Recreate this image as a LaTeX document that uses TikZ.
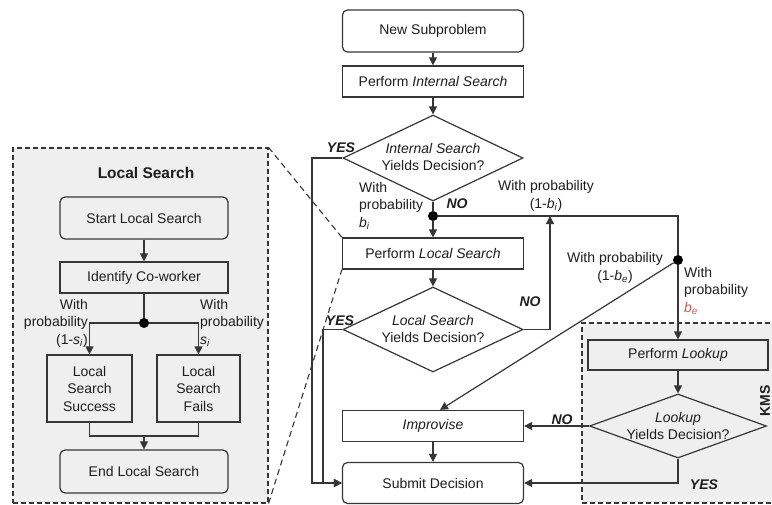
\documentclass[tikz,border=0pt]{standalone}
\usepackage{fontspec}
\setmainfont{Liberation Sans}
\usetikzlibrary{shapes.geometric,arrows.meta}
\definecolor{linec}{HTML}{363636}
\definecolor{txt}{HTML}{1E1E1E}
\definecolor{panelfill}{HTML}{EFEFEF}
\definecolor{bered}{HTML}{C85A5A}
\begin{document}
\begin{tikzpicture}[x=1pt,y=-1pt,
  fnt/.style={font=\fontsize{14}{17.5}\selectfont, text=txt},
  line/.style={draw=linec, line width=1.2pt},
  arr/.style={line, -{Triangle[length=8pt,width=8pt]}},
  box/.style={draw=linec, line width=1.2pt, fill=white, minimum width=181pt, minimum height=31pt, inner sep=0pt, fnt},
  rbox/.style={box, rounded corners=5pt, minimum height=42pt},
  gbox/.style={box, fill=panelfill},
  grbox/.style={rbox, fill=panelfill},
  dia/.style={diamond, draw=linec, line width=1.2pt, fill=white, inner sep=0pt},
  diatext/.style={fnt, align=center, inner sep=0pt},
  dot/.style={circle, fill=black, inner sep=0pt, minimum size=10pt},
  lbl/.style={fnt, inner sep=0pt},
  yn/.style={font=\fontsize{14}{16}\selectfont\bfseries\itshape, text=txt, inner sep=0pt},
  zone/.style={draw=linec, line width=1.1pt, dash pattern=on 5pt off 3pt, fill=panelfill, inner sep=0pt},
  zoomline/.style={draw=linec, line width=1.1pt, dash pattern=on 6pt off 4pt}
]
\useasboundingbox (0,0) rectangle (772,504);
% zones
\node[zone, minimum width=255pt, minimum height=355pt] (panel) at (140.5,325.5) {};
\node[zone, minimum width=196pt, minimum height=180pt] (kms) at (680,413) {};
\node[font=\fontsize{15.5}{18}\selectfont\bfseries, text=txt] (title) at (146,173) {Local Search};
\node[font=\fontsize{14}{16}\selectfont\bfseries, text=txt, rotate=90] (kmslbl) at (765,401) {KMS};

% main column
\node[rbox] (ns) at (433,31) {New Subproblem};
\node[box] (pis) at (433,81.5) {Perform \textit{Internal Search}};
\node[dia, minimum width=180pt, minimum height=86pt] (d1) at (433,158) {};
\node[diatext] (d1t) at (433,157) {\textit{Internal Search}\\Yields Decision?};
\node[dot] (dot1) at (433,216) {};
\node[box] (pls) at (433,253.5) {Perform \textit{Local Search}};
\node[dia, minimum width=180pt, minimum height=85pt] (d2) at (433,329.5) {};
\node[diatext] (d2t) at (433,329) {\textit{Local Search}\\Yields Decision?};
\node[box] (imp) at (433,426) {\textit{Improvise}};
\node[rbox, minimum height=41pt] (sub) at (433,483) {Submit Decision};
\node[dot] (dot2) at (678,260) {};
\node[gbox, minimum width=180pt, minimum height=30pt] (plk) at (678,355) {Perform \textit{Lookup}};
\node[dia, fill=panelfill, minimum width=177pt, minimum height=64pt] (d3) at (678,426) {};
\node[diatext] (d3t) at (678,426) {\textit{Lookup}\\Yields Decision?};

% left panel
\node[grbox, minimum width=168pt] (sls) at (144,218) {Start Local Search};
\node[gbox, minimum width=168pt] (ico) at (144,277.5) {Identify Co-worker};
\node[dot] (dot3) at (144,323) {};
\node[gbox, minimum width=85pt, minimum height=67pt, align=center] (lss) at (89.5,388.5) {Local\\Search\\Success};
\node[gbox, minimum width=83pt, minimum height=67pt, align=center] (lsf) at (198.5,388.5) {Local\\Search\\Fails};
\node[grbox, minimum width=168pt, minimum height=43pt] (els) at (144,471.5) {End Local Search};
\coordinate (j) at (144,436);

% zoom lines
\draw[zoomline] (panel.north east) -- (pls.north west);
\draw[zoomline] (panel.south east) -- (pls.south west);

% connectors main
\draw[arr] (ns) -- (pis);
\draw[arr] (pis) -- (d1.north);
\draw[line] (d1.south) -- (dot1);
\draw[arr] (dot1) -- (pls);
\draw[line] (dot1) -- (dot1 -| dot2) -- (dot2);
\coordinate (y1) at (312,158);
\coordinate (y2) at (323,329.5);
\draw[arr] (d1.west) -- (y1) |- (sub.west);
\draw[arr] (d2.west) -- (y2) |- (sub.west);
\draw[arr] (pls) -- (d2.north);
\coordinate (nup) at (550,216);
\draw[arr] (d2.east) -| (nup);
\draw[arr] (dot2) -- ([xshift=7pt]imp.north);
\draw[arr] (dot2) -- (plk);
\draw[arr] (plk) -- (d3.north);
\draw[arr] (d3.west) -- (imp.east);
\draw[arr] (d3.south) |- (sub.east);
\draw[arr] (imp) -- (sub);

% connectors left panel
\draw[arr] (sls) -- (ico);
\draw[line] (ico) -- (dot3);
\draw[arr] (dot3) -| (lss.north);
\draw[arr] (dot3) -| (lsf.north);
\draw[line] (lss.south) |- (j) -| (lsf.south);
\draw[arr] (j) -- (els);

% labels
\node[lbl, align=left, anchor=north west] (lb1) at (359,182) {With\\probability\\\textit{b}\textsubscript{\textit{i}}};
\node[lbl, align=center] (lb2) at (546,196) {With probability\\(1-\textit{b}\textsubscript{\textit{i}})};
\node[lbl, align=center] (lb3) at (615,268) {With probability\\(1-\textit{b}\textsubscript{\textit{e}})};
\node[lbl, align=left, anchor=north west] (lb4) at (684,267) {With\\probability\\\textcolor{bered}{\textit{b}\textsubscript{\textit{e}}}};
\node[lbl, align=right, anchor=east] (lb5) at (88,323) {With\\probability\\(1-\textit{s}\textsubscript{\textit{i}})};
\node[lbl, align=left, anchor=west] (lb6) at (200,323) {With\\probability\\\textit{s}\textsubscript{\textit{i}}};
\node[yn] (yes1) at (341,148) {YES};
\node[yn] (yes2) at (340,321) {YES};
\node[yn] (yes3) at (704,485) {YES};
\node[yn] (no1) at (457,204) {NO};
\node[yn] (no2) at (530,302) {NO};
\node[yn] (no3) at (562,420) {NO};
\end{tikzpicture}
\end{document}
